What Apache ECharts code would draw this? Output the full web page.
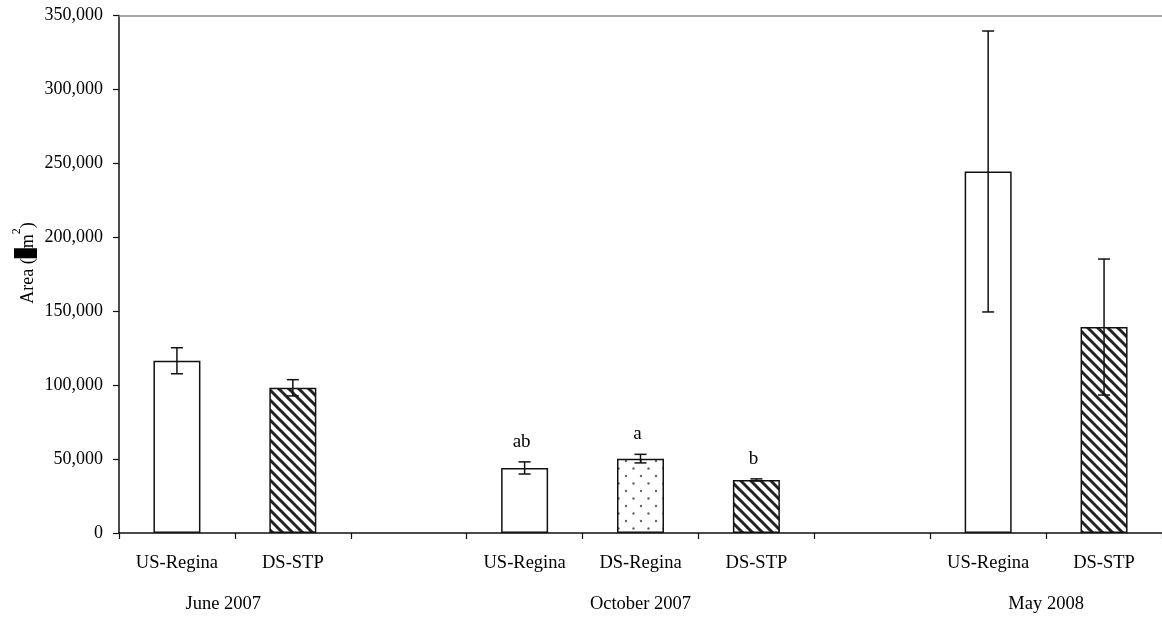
<!DOCTYPE html>
<html>
<head>
<meta charset="utf-8">
<style>
  html, body { margin: 0; padding: 0; background: #fff; }
  #chart { width: 1162px; height: 622px; }
</style>
<script src="https://cdn.jsdelivr.net/npm/echarts@6/dist/echarts.min.js"></script>
</head>
<body>
<div id="chart"></div>
<script>
// Site categories per sampling campaign (blank slots separate the campaigns)
const categories = ['US-Regina', 'DS-STP', '', 'US-Regina', 'DS-Regina', 'DS-STP', '', 'US-Regina', 'DS-STP'];
// Mean area (m2) per site
const meanArea = [116500, 98200, null, 44000, 50300, 35900, null, 244500, 139300];
// Error (+/-) around each mean
const errorArea = [8800, 5500, null, 4100, 2900, 700, null, 95000, 46000];
// Significance letters above the October bars
const sigLetters = ['', '', '', 'ab', 'a', 'b', '', '', ''];
// Fill style keys per bar
const fillKinds = ['plain', 'hatch', null, 'plain', 'dots', 'hatch', null, 'plain', 'hatch'];
// Campaign labels under the site names (anchor = category position)
const campaigns = [
  { name: 'June 2007', anchor: 0.4 },
  { name: 'October 2007', anchor: 4 },
  { name: 'May 2008', anchor: 7.5 }
];
const yTicks = { min: 0, max: 350000, interval: 50000 };

const FONT = '"Liberation Serif", "Times New Roman", serif';
const INK = '#111';

function hatchPattern() {
  const c = document.createElement('canvas');
  c.width = 10; c.height = 10;
  const g = c.getContext('2d');
  g.fillStyle = '#fff'; g.fillRect(0, 0, 10, 10);
  g.strokeStyle = '#222'; g.lineWidth = 3;
  for (let k = -1; k <= 1; k++) {
    g.beginPath();
    g.moveTo(k * 10 - 3, -3);
    g.lineTo(k * 10 + 13, 13);
    g.stroke();
  }
  return { image: c, repeat: 'repeat' };
}
function dotPattern() {
  const c = document.createElement('canvas');
  c.width = 15; c.height = 15;
  const g = c.getContext('2d');
  g.fillStyle = '#fff'; g.fillRect(0, 0, 15, 15);
  g.fillStyle = '#666';
  [[3.5, 3.5], [11, 11]].forEach(([x, y]) => {
    g.beginPath(); g.arc(x, y, 1.2, 0, Math.PI * 2); g.fill();
  });
  return { image: c, repeat: 'repeat' };
}
const fills = { plain: '#fff', hatch: hatchPattern(), dots: dotPattern() };

const barData = meanArea.map((v, i) => v == null ? null : ({
  value: v,
  itemStyle: { color: fills[fillKinds[i]] }
}));
const errData = meanArea.map((v, i) => v == null ? null : [i, v - errorArea[i], v + errorArea[i], sigLetters[i]])
  .filter(d => d);

const chart = echarts.init(document.getElementById('chart'), null, { renderer: 'canvas' });

const option = {
  animation: false,
  backgroundColor: '#fff',
  grid: { left: 119, right: 0, top: 15.5, bottom: 89 },
  xAxis: [{
    type: 'category',
    data: categories,
    axisLine: { lineStyle: { color: INK, width: 1.5 } },
    axisTick: { show: true, length: 6, inside: false, alignWithLabel: false, interval: 0, lineStyle: { color: INK, width: 1.2 } },
    axisLabel: { interval: 0, margin: 21, color: '#000', fontFamily: FONT, fontSize: 18.5 }
  }, {
    type: 'category',
    position: 'top',
    data: categories,
    axisLine: { lineStyle: { color: '#8c8c8c', width: 1.5 } },
    axisTick: { show: false },
    axisLabel: { show: false }
  }],
  yAxis: {
    type: 'value',
    min: yTicks.min, max: yTicks.max, interval: yTicks.interval,
    splitLine: { show: false },
    axisLine: { show: true, lineStyle: { color: INK, width: 1.5 } },
    axisTick: { show: true, length: 6, lineStyle: { color: INK, width: 1.2 } },
    axisLabel: {
      margin: 16, color: '#000', fontFamily: FONT, fontSize: 18,
      formatter: v => v.toLocaleString('en-US')
    }
  },
  series: [{
    type: 'bar',
    data: barData,
    barWidth: 47,
    itemStyle: { borderColor: INK, borderWidth: 1.5 }
  }, {
    type: 'custom',
    data: errData,
    z: 5,
    renderItem: function (params, api) {
      const i = api.value(0);
      const lo = api.coord([i, api.value(1)]);
      const hi = api.coord([i, api.value(2)]);
      const cap = 6;
      const style = { stroke: INK, lineWidth: 1.5, fill: null };
      const children = [
        { type: 'line', shape: { x1: hi[0], y1: hi[1], x2: lo[0], y2: lo[1] }, style },
        { type: 'line', shape: { x1: hi[0] - cap, y1: hi[1], x2: hi[0] + cap, y2: hi[1] }, style },
        { type: 'line', shape: { x1: lo[0] - cap, y1: lo[1], x2: lo[0] + cap, y2: lo[1] }, style }
      ];
      const letter = api.value(3);
      if (letter) {
        children.push({
          type: 'text',
          x: hi[0] - 3, y: hi[1] - 20,
          style: { text: letter, fill: '#000', font: '19px ' + FONT, align: 'center', verticalAlign: 'middle' }
        });
      }
      return { type: 'group', children };
    }
  }]
};
chart.setOption(option);

// Campaign labels and the rotated axis title
const y0 = chart.convertToPixel({ yAxisIndex: 0 }, 0);
const graphics = campaigns.map(c => {
  const a = Math.floor(c.anchor), f = c.anchor - a;
  const pa = chart.convertToPixel({ xAxisIndex: 0 }, a);
  const pb = f > 0 ? chart.convertToPixel({ xAxisIndex: 0 }, a + 1) : pa;
  return {
    type: 'text',
    x: pa + (pb - pa) * f,
    y: y0 + 71,
    style: { text: c.name, fill: '#000', font: '18.5px ' + FONT, align: 'center', verticalAlign: 'middle' }
  };
});
graphics.push({
  type: 'text',
  x: 24, y: 263,
  rotation: Math.PI / 2,
  style: {
    text: '{n|Area (}{box|}{n|m}{sup|2}{n|)}',
    align: 'center', verticalAlign: 'middle',
    fill: '#000',
    rich: {
      n: { fontFamily: FONT, fontSize: 18, fill: '#000', verticalAlign: 'bottom', lineHeight: 26 },
      box: { backgroundColor: '#000', width: 10, height: 23, verticalAlign: 'bottom' },
      sup: { fontFamily: FONT, fontSize: 12, fill: '#000', verticalAlign: 'top', lineHeight: 26 }
    }
  }
});
chart.setOption({ graphic: graphics });
</script>
</body>
</html>
